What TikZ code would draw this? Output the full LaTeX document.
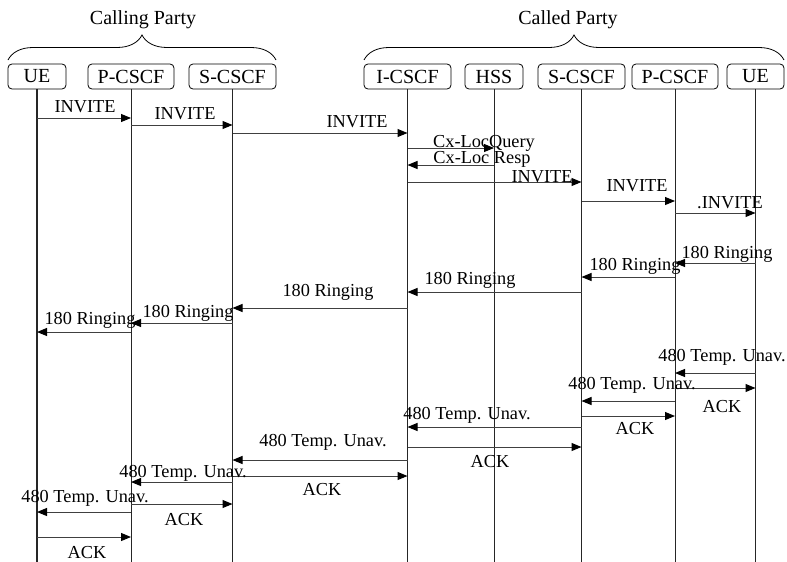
\documentclass[tikz,border=0pt]{standalone}
\usepackage{fontspec}
\setmainfont{Liberation Serif}
\usepackage{tikz}
\usetikzlibrary{arrows.meta, decorations.pathreplacing}
\tikzstyle{entity} = [rectangle, rounded corners=4pt, minimum height=25pt,
           inner sep=0pt, text centered, draw=black, line width=0.8pt,
           font=\fontsize{20}{22}\selectfont]
\tikzstyle{party} = [font=\fontsize{20}{22}\selectfont]
\tikzstyle{partybrace} = [decorate, decoration={brace, amplitude=25pt}, line width=0.8pt]
\tikzstyle{lifeline} = [line width=1pt, draw=black!85]
\tikzstyle{msg} = [line width=1pt, draw=black!75, -{Triangle[length=10pt, width=8pt, color=black]}]
\tikzstyle{lbl} = [inner sep=0pt, font=\fontsize{18.3}{20}\selectfont]

\begin{document}
\begin{tikzpicture}[x=1pt, y=-1pt]
\useasboundingbox (0,0) rectangle (787,562);
% parties
\node (calling) [party] at (143,20) {Calling Party};
\node (called) [party] at (568,20) {Called Party};
\coordinate (callingL) at (8,60);
\coordinate (callingR) at (276,60);
\coordinate (calledL) at (364,60);
\coordinate (calledR) at (784,60);
\draw [partybrace] (callingL) -- (callingR);
\draw [partybrace] (calledL) -- (calledR);
% entities
\node (ue1) [entity, minimum width=58pt] at (37,76.5) {UE};
\node (pc1) [entity, minimum width=86pt] at (131,76.5) {P-CSCF};
\node (sc1) [entity, minimum width=87pt] at (232.5,76.5) {S-CSCF};
\node (ic) [entity, minimum width=87pt] at (407.5,76.5) {I-CSCF};
\node (hss) [entity, minimum width=58pt] at (494,76.5) {HSS};
\node (sc2) [entity, minimum width=87pt] at (581.5,76.5) {S-CSCF};
\node (pc2) [entity, minimum width=86pt] at (675,76.5) {P-CSCF};
\node (ue2) [entity, minimum width=57pt] at (755.5,76.5) {UE};
% lifelines
\draw [lifeline, line width=2pt] (ue1.south) -- (ue1 |- 0,562);
\foreach \e in {pc1, sc1, ic, hss, sc2, pc2, ue2}
  \draw [lifeline] (\e.south) -- (\e |- 0,562);
% session set-up
\draw [msg] (ue1 |- 0,118) -- (pc1 |- 0,118);
\node (inv1) [lbl] at (85,107) {INVITE};
\draw [msg] (pc1 |- 0,125) -- (sc1 |- 0,125);
\node (inv2) [lbl] at (185,114) {INVITE};
\draw [msg] (sc1 |- 0,133) -- (ic |- 0,133);
\node (inv3) [lbl] at (357,122) {INVITE};
\draw [msg] (ic |- 0,148) -- (hss |- 0,148);
\node (query) [lbl] at (484,143) {Cx-LocQuery};
\draw [msg] (hss |- 0,165) -- (ic |- 0,165);
\node (resp) [lbl] at (482,159) {Cx-Loc Resp};
\draw [msg] (ic |- 0,182) -- (sc2 |- 0,182);
\node (inv4) [lbl] at (542,177) {INVITE};
\draw [msg] (sc2 |- 0,201) -- (pc2 |- 0,201);
\node (inv5) [lbl] at (637,186) {INVITE};
\draw [msg] (pc2 |- 0,213) -- (ue2 |- 0,213);
\node (inv6) [lbl] at (730,203) {.INVITE};
% ringing
\draw [msg] (ue2 |- 0,263) -- (pc2 |- 0,263);
\node (ring1) [lbl] at (727,254) {180 Ringing};
\draw [msg] (pc2 |- 0,277) -- (sc2 |- 0,277);
\node (ring2) [lbl] at (635,266) {180 Ringing};
\draw [msg] (sc2 |- 0,292) -- (ic |- 0,292);
\node (ring3) [lbl] at (470,280) {180 Ringing};
\draw [msg] (ic |- 0,308) -- (sc1 |- 0,308);
\node (ring4) [lbl] at (328,292) {180 Ringing};
\draw [msg] (sc1 |- 0,323) -- (pc1 |- 0,323);
\node (ring5) [lbl] at (188,313) {180 Ringing};
\draw [msg] (pc1 |- 0,332) -- (ue1 |- 0,332);
\node (ring6) [lbl] at (90,320) {180 Ringing};
% unavailable and ack
\draw [msg] (ue2 |- 0,373) -- (pc2 |- 0,373);
\node (unav1) [lbl] at (722,357) {480 Temp. Unav.};
\draw [msg] (pc2 |- 0,388) -- (ue2 |- 0,388);
\node (ack1) [lbl] at (722,407) {ACK};
\draw [msg] (pc2 |- 0,401) -- (sc2 |- 0,401);
\node (unav2) [lbl] at (632,385) {480 Temp. Unav.};
\draw [msg] (sc2 |- 0,416) -- (pc2 |- 0,416);
\node (ack2) [lbl] at (635,429) {ACK};
\draw [msg] (sc2 |- 0,427) -- (ic |- 0,427);
\node (unav3) [lbl] at (467,415) {480 Temp. Unav.};
\draw [msg] (ic |- 0,447) -- (sc2 |- 0,447);
\node (ack3) [lbl] at (490,462) {ACK};
\draw [msg] (ic |- 0,460) -- (sc1 |- 0,460);
\node (unav4) [lbl] at (323,442) {480 Temp. Unav.};
\draw [msg] (sc1 |- 0,476) -- (ic |- 0,476);
\node (ack4) [lbl] at (322,490) {ACK};
\draw [msg] (sc1 |- 0,482) -- (pc1 |- 0,482);
\node (unav5) [lbl] at (183,473) {480 Temp. Unav.};
\draw [msg] (pc1 |- 0,504) -- (sc1 |- 0,504);
\node (ack5) [lbl] at (184,520) {ACK};
\draw [msg] (pc1 |- 0,512) -- (ue1 |- 0,512);
\node (unav6) [lbl] at (85,498) {480 Temp. Unav.};
\draw [msg] (ue1 |- 0,537) -- (pc1 |- 0,537);
\node (ack6) [lbl] at (87,553) {ACK};
\end{tikzpicture}
\end{document}
